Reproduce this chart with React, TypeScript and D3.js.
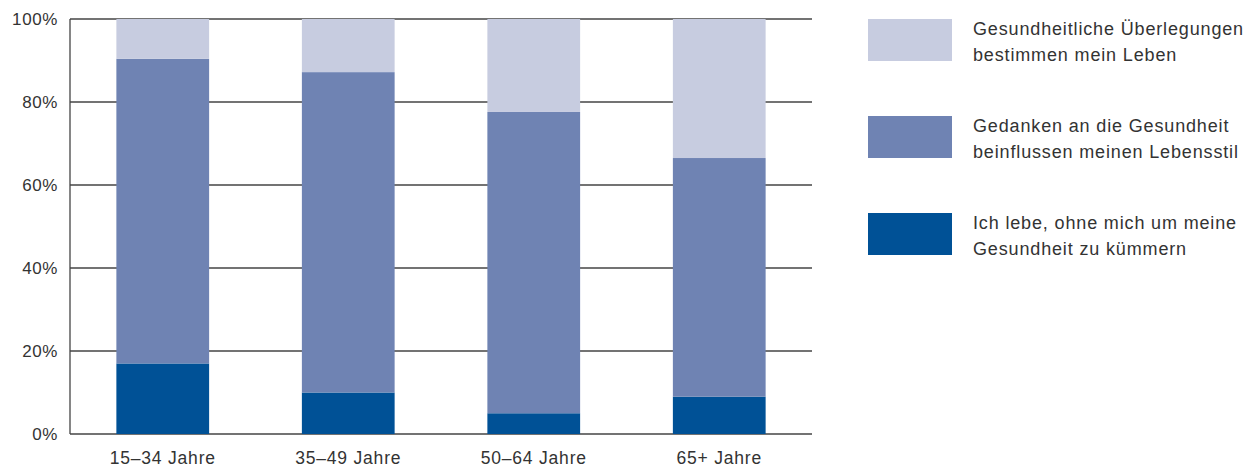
import React from "react";
import * as d3 from "d3";

// Age groups and the share of each attitude towards health (percent)
const categories = ["15–34 Jahre", "35–49 Jahre", "50–64 Jahre", "65+ Jahre"];
const ohneKuemmern = [17, 10, 5, 9];
const gedanken = [73.4, 77.2, 72.6, 57.5];
const ueberlegungen = [9.6, 12.8, 22.4, 33.5];

const yTicks = [0, 20, 40, 60, 80, 100];

const seriesKeys = ["ohne", "gedanken", "ueberlegungen"];
const seriesColors: Record<string, string> = {
  ohne: "#005196",
  gedanken: "#6f83b3",
  ueberlegungen: "#c7cce0",
};

// Legend entries, listed top to bottom
const legendItems = [
  { key: "ueberlegungen", lines: ["Gesundheitliche Überlegungen", "bestimmen mein Leben"] },
  { key: "gedanken", lines: ["Gedanken an die Gesundheit", "beinflussen meinen Lebensstil"] },
  { key: "ohne", lines: ["Ich lebe, ohne mich um meine", "Gesundheit zu kümmern"] },
];

const W = 1251;
const H = 467;
const left = 70;
const right = 812;
const top = 19;
const bottom = 434;
const FONT = "'Liberation Sans', Arial, sans-serif";
const TEXT = "#333333";

export default function App() {
  const rows = categories.map((c, i) => ({
    cat: c,
    ohne: ohneKuemmern[i],
    gedanken: gedanken[i],
    ueberlegungen: ueberlegungen[i],
  }));

  const stacked = d3.stack<any>().keys(seriesKeys)(rows);

  const x = d3
    .scaleBand<string>()
    .domain(categories)
    .range([left, right])
    .paddingInner(0.5)
    .paddingOuter(0.25);
  const y = d3.scaleLinear().domain([0, 100]).range([bottom, top]);

  return (
    <div style={{ position: "absolute", left: 0, top: 0 }}>
      <svg width={W} height={H} style={{ display: "block", background: "#fff" }}>
        {/* horizontal grid lines */}
        {yTicks.map((t) => (
          <line
            key={"g" + t}
            x1={left}
            x2={right}
            y1={y(t)}
            y2={y(t)}
            stroke="#444"
            strokeWidth={1.3}
          />
        ))}
        {/* vertical axis line */}
        <line x1={left} x2={left} y1={top} y2={bottom} stroke="#444" strokeWidth={1.3} />

        {/* stacked bars */}
        {stacked.map((s) => (
          <g key={s.key} fill={seriesColors[s.key]}>
            {s.map((d, i) => (
              <rect
                key={i}
                x={x(d.data.cat)}
                width={x.bandwidth()}
                y={y(d[1])}
                height={y(d[0]) - y(d[1])}
              />
            ))}
          </g>
        ))}

        {/* y tick labels */}
        {yTicks.map((t) => (
          <text
            key={"t" + t}
            x={58}
            y={y(t)}
            textAnchor="end"
            dominantBaseline="central"
            fontFamily={FONT}
            fontSize={17}
            letterSpacing={0.6}
            fill={TEXT}
          >
            {t}%
          </text>
        ))}

        {/* x category labels */}
        {categories.map((c) => (
          <text
            key={c}
            x={(x(c) ?? 0) + x.bandwidth() / 2}
            y={464}
            textAnchor="middle"
            fontFamily={FONT}
            fontSize={17.5}
            letterSpacing={0.8}
            fill={TEXT}
          >
            {c}
          </text>
        ))}

        {/* legend */}
        {legendItems.map((item, i) => {
          const ly = 19 + i * 97;
          return (
            <g key={item.key}>
              <rect x={868} y={ly} width={84} height={42} fill={seriesColors[item.key]} />
              {item.lines.map((ln, j) => (
                <text
                  key={j}
                  x={973}
                  y={ly + 15.5 + j * 26}
                  fontFamily={FONT}
                  fontSize={18}
                  letterSpacing={0.85}
                  fill={TEXT}
                >
                  {ln}
                </text>
              ))}
            </g>
          );
        })}
      </svg>
    </div>
  );
}
